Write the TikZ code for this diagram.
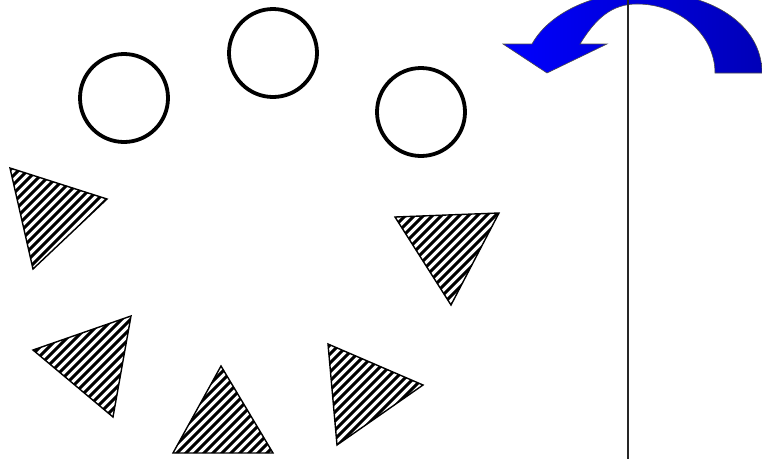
\documentclass[tikz,border=0pt]{standalone}
\usepackage{tikz}

\tikzset{
  ring/.style={line width=3.8pt, draw=black},
  tribox/.style={line width=1.4pt, draw=black},
  hatchline/.style={line width=3pt, black},
  turnarrow/.style={left color=blue, right color=blue!72!black, draw=black!70, line width=0.6pt}
}

% hatched triangle: three corners
\newcommand{\hatchtri}[3]{%
  \begin{scope}
    \clip #1 -- #2 -- #3 -- cycle;
    \foreach \d in {-480,-471,...,520} {
      \draw[hatchline] (\d,480) -- ++(500,-500);
    }
  \end{scope}
  \draw[tribox] #1 -- #2 -- #3 -- cycle;
}

\begin{document}
\begin{tikzpicture}[x=1pt, y=-1pt]
  \useasboundingbox (0,0) rectangle (762,459);
  \begin{scope}
    \clip (0,0) rectangle (762,459);
    % Circles
    \foreach \cx/\cy in {124/98, 273/53, 421/112} {
      \draw[ring] (\cx,\cy) circle (44);
    }
    % Hatched triangles
    \hatchtri{(10,168)}{(107,199)}{(33,269)}
    \hatchtri{(395,217)}{(499,213)}{(451,305)}
    \hatchtri{(33,350)}{(131,316)}{(113,417)}
    \hatchtri{(221,366)}{(173,453)}{(273,453)}
    \hatchtri{(328,344)}{(423,385)}{(337,445)}
    % Curved arrow (top)
    \shadedraw[turnarrow] (762,73) .. controls (762,25) and (712,-8) .. (645,-8)
      .. controls (590,-8) and (548,15) .. (532,44) -- (503,44) -- (547,73)
      -- (607,44) -- (580,44) .. controls (596,18) and (612,4) .. (637,4)
      .. controls (680,4) and (715,35) .. (715,73) -- cycle;
    % Axis line
    \draw[line width=2pt, black!85] (628,0) -- (628,459);
  \end{scope}
\end{tikzpicture}
\end{document}
